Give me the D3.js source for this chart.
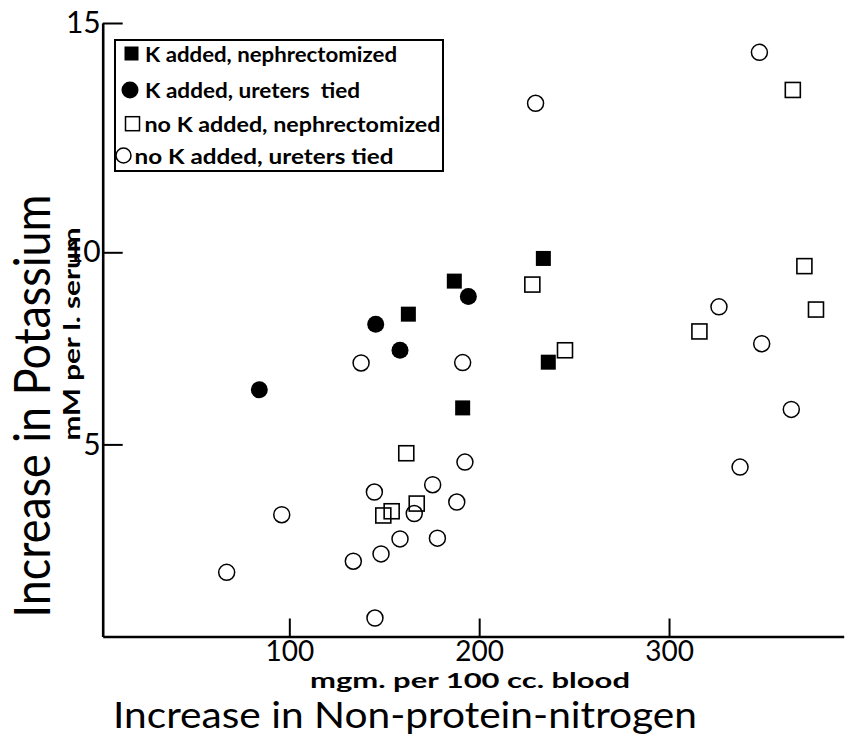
<!DOCTYPE html>
<html><head><meta charset="utf-8">
<script src="https://cdn.jsdelivr.net/npm/d3@7"></script>
<style>body{margin:0;background:#fff}svg{display:block}</style>
</head><body>
<svg id="c" width="853" height="737"></svg>
<script>
// ---- data ----
const xTicks = [100, 200, 300];
const yTicks = [5, 10, 15];
const seriesNames = ["K added, nephrectomized", "K added, ureters  tied", "no K added, nephrectomized", "no K added, ureters tied"];

const kNephX = [233.8, 186.9, 162.7, 236.4, 191.3];
const kNephY = [9.84, 9.25, 8.39, 7.14, 5.95];

const kUretX = [194.3, 145.5, 158.3, 84.2];
const kUretY = [8.85, 8.13, 7.45, 6.42];

const noKNephX = [228.0, 245.2, 161.6, 167.1, 153.9, 149.5, 365.2, 371.3, 377.4, 316.0];
const noKNephY = [9.16, 7.45, 4.77, 3.46, 3.26, 3.15, 13.54, 9.64, 8.51, 7.94];

const noKUretX = [229.7, 347.6, 326.3, 348.8, 364.4, 337.4, 137.8, 191.3, 192.5, 175.5, 144.8, 188.2, 165.8, 158.3, 178.0, 148.3, 133.7, 145.1, 96.0, 67.0];
const noKUretY = [13.25, 14.36, 8.58, 7.62, 5.91, 4.41, 7.12, 7.13, 4.54, 3.95, 3.76, 3.50, 3.20, 2.54, 2.56, 2.15, 1.96, 0.48, 3.17, 1.67];

// ---- chart ----
const svg = d3.select("#c");
const font = "Lato, 'DejaVu Sans', sans-serif";

const x = d3.scaleLinear().domain([1.7, 392]).range([102.7, 843.7]);
const y = d3.scaleLinear().domain([0, 10, 15]).range([636.5, 252.3, 23]);

const zip = (xs, ys) => xs.map((v, i) => ({x: v, y: ys[i]}));

// axes
const xAxis = d3.axisBottom(x).tickValues(xTicks).tickSizeInner(-18).tickSizeOuter(0).tickPadding(5).tickFormat(d3.format("d"));
const gx = svg.append("g").attr("transform", `translate(0,${y(0)})`).call(xAxis);
gx.select(".domain").attr("stroke-width", 2.6);
gx.selectAll(".tick line").attr("stroke-width", 2);
gx.selectAll("text").attr("font-family", font).attr("font-size", 28).attr("fill", "#000");

const yAxis = d3.axisLeft(y).tickValues(yTicks).tickSizeInner(-20).tickSizeOuter(0).tickPadding(2).tickFormat(d3.format("d"));
const gy = svg.append("g").attr("transform", `translate(${x(1.7)},0)`).call(yAxis);
gy.select(".domain").attr("stroke-width", 2.6);
gy.selectAll(".tick line").attr("stroke-width", 2);
gy.selectAll("text").attr("font-family", font).attr("font-size", 30).attr("fill", "#000");

// titles
svg.append("text").attr("x", 470).attr("y", 688).attr("text-anchor", "middle")
  .attr("font-family", font).attr("font-weight", 700).attr("font-size", 20)
  .attr("textLength", 320).attr("lengthAdjust", "spacingAndGlyphs")
  .text("mgm. per 100 cc. blood");
svg.append("text").attr("x", 405).attr("y", 728).attr("text-anchor", "middle")
  .attr("font-family", font).attr("font-size", 36)
  .attr("textLength", 584).attr("lengthAdjust", "spacingAndGlyphs")
  .text("Increase in Non-protein-nitrogen");
svg.append("text").attr("transform", "translate(50,406) rotate(-90)").attr("text-anchor", "middle")
  .attr("font-family", font).attr("font-size", 50)
  .attr("textLength", 423).attr("lengthAdjust", "spacingAndGlyphs")
  .text("Increase in Potassium");
svg.append("text").attr("transform", "translate(80,334) rotate(-90)").attr("text-anchor", "middle")
  .attr("font-family", font).attr("font-weight", 700).attr("font-size", 23)
  .attr("textLength", 213).attr("lengthAdjust", "spacingAndGlyphs")
  .text("mM per l. serum");

// marks
const sq = 15, r = 8.5;
const plot = svg.append("g");
plot.selectAll(".fs").data(zip(kNephX, kNephY)).join("rect")
  .attr("x", d => x(d.x) - sq / 2).attr("y", d => y(d.y) - sq / 2)
  .attr("width", sq).attr("height", sq).attr("fill", "#000");
plot.selectAll(".fc").data(zip(kUretX, kUretY)).join("circle")
  .attr("cx", d => x(d.x)).attr("cy", d => y(d.y)).attr("r", r).attr("fill", "#000");
plot.selectAll(".os").data(zip(noKNephX, noKNephY)).join("rect")
  .attr("x", d => x(d.x) - sq / 2).attr("y", d => y(d.y) - sq / 2)
  .attr("width", sq).attr("height", sq).attr("fill", "none").attr("stroke", "#000").attr("stroke-width", 1.6);
plot.selectAll(".oc").data(zip(noKUretX, noKUretY)).join("circle")
  .attr("cx", d => x(d.x)).attr("cy", d => y(d.y)).attr("r", r - 0.5)
  .attr("fill", "none").attr("stroke", "#000").attr("stroke-width", 1.5);

// legend
const lg = svg.append("g");
lg.append("rect").attr("x", 115).attr("y", 40).attr("width", 328).attr("height", 131)
  .attr("fill", "#fff").attr("stroke", "#000").attr("stroke-width", 2);
const legendRows = [
  {cy: 53.5, tx: 145, ty: 61.5, len: 252},
  {cy: 90, tx: 145, ty: 98, len: 215},
  {cy: 123.7, tx: 144.5, ty: 131.5, len: 296},
  {cy: 155.5, tx: 134.5, ty: 164, len: 259}
];
lg.append("rect").attr("x", 124.5).attr("y", legendRows[0].cy - 7).attr("width", 14).attr("height", 14).attr("fill", "#000");
lg.append("circle").attr("cx", 130).attr("cy", legendRows[1].cy).attr("r", 8.5).attr("fill", "#000");
lg.append("rect").attr("x", 125.5).attr("y", legendRows[2].cy - 7).attr("width", 14).attr("height", 14)
  .attr("fill", "none").attr("stroke", "#000").attr("stroke-width", 1.5);
lg.append("circle").attr("cx", 123.5).attr("cy", legendRows[3].cy).attr("r", 7.5)
  .attr("fill", "none").attr("stroke", "#000").attr("stroke-width", 1.5);
lg.selectAll(".lt").data(seriesNames).join("text")
  .attr("x", (d, i) => legendRows[i].tx).attr("y", (d, i) => legendRows[i].ty)
  .attr("font-family", font).attr("font-weight", 700).attr("font-size", 21)
  .attr("textLength", (d, i) => legendRows[i].len).attr("lengthAdjust", "spacingAndGlyphs")
  .attr("xml:space", "preserve").style("white-space", "pre")
  .text(d => d);
</script>
</body></html>
